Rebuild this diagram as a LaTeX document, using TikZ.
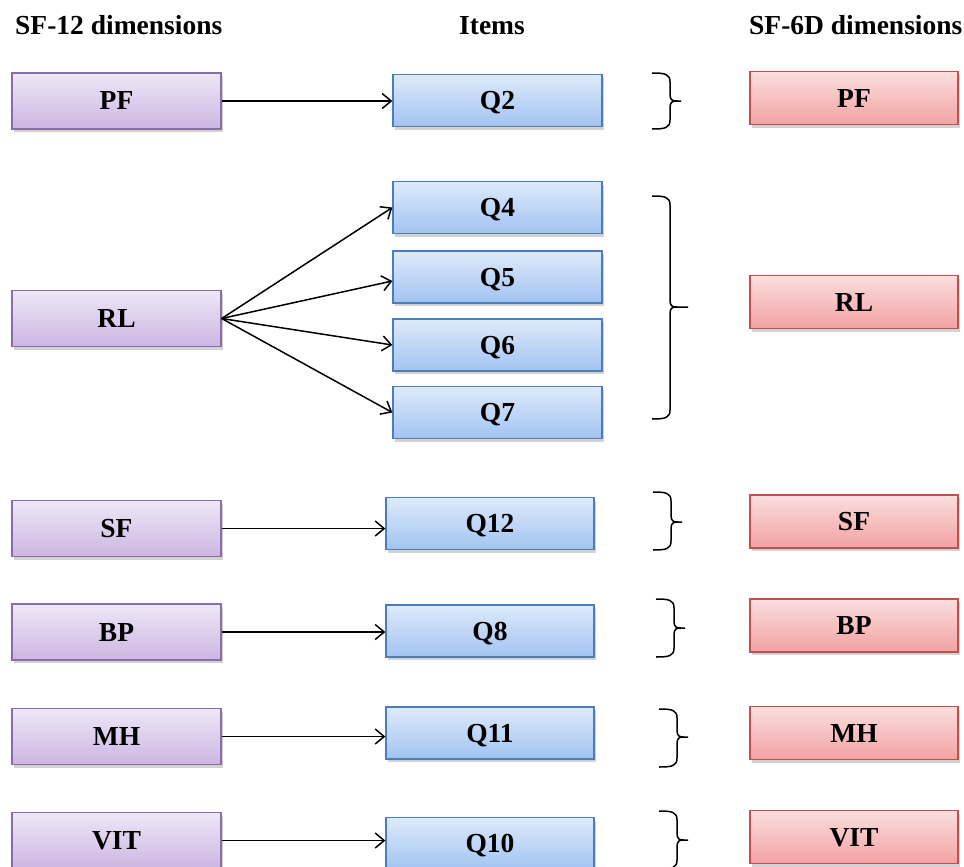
\documentclass[tikz,border=0pt]{standalone}
\usepackage{fontspec}
\setmainfont{Liberation Serif}
\usetikzlibrary{arrows.meta,shadows,calc}
\definecolor{ptop}{HTML}{EFE7F7}
\definecolor{pbot}{HTML}{CBB6E2}
\definecolor{pline}{HTML}{8A6CAE}
\definecolor{btop}{HTML}{DEEAFB}
\definecolor{bbot}{HTML}{A2C3F1}
\definecolor{bline}{HTML}{4A7EBB}
\definecolor{rtop}{HTML}{FBDEDE}
\definecolor{rbot}{HTML}{F2A2A2}
\definecolor{rline}{HTML}{C0504D}
\newcommand\cbrace[5]{%
  \draw[brc] (#1,#2) .. controls ({#1+13},#2) and ({#1+18},{#2+1}) .. ({#1+18},{#2+9})
     -- ({#1+18},{#4-7}) .. controls ({#1+18},{#4-1}) and ({#1+20},#4) .. ({#1+25},#4) -- (#5,#4);
  \draw[brc] (#1,#3) .. controls ({#1+13},#3) and ({#1+18},{#3-1}) .. ({#1+18},{#3-9})
     -- ({#1+18},{#4+7}) .. controls ({#1+18},{#4+1}) and ({#1+20},#4) .. ({#1+25},#4);
}
\begin{document}
\begin{tikzpicture}[x=1pt,y=-1pt,
  lbl/.style={font=\bfseries\fontsize{27.5}{30}\selectfont},
  boxbase/.style={rectangle, inner sep=0pt, line width=1.3pt, lbl,
    text height=18pt, text depth=0pt,
    drop shadow={shadow xshift=1.5pt, shadow yshift=-3pt, opacity=0.35}},
  pbox/.style={boxbase, minimum width=209pt, minimum height=56pt,
    top color=ptop, bottom color=pbot, draw=pline},
  bbox/.style={boxbase, minimum width=209pt, minimum height=52pt,
    top color=btop, bottom color=bbot, draw=bline},
  rbox/.style={boxbase, minimum width=208pt, minimum height=53pt,
    top color=rtop, bottom color=rbot, draw=rline},
  arr/.style={line width=1.5pt, -{Straight Barb[length=9pt,width=15pt]}},
  brc/.style={line width=1.5pt}]
\useasboundingbox (0,0) rectangle (964,867);
\clip (0,0) rectangle (964,867);
\fill[white] (0,0) rectangle (964,867);

% headings
\node[lbl, anchor=base west, inner sep=0pt] (h1) at (15,35) {SF-12 dimensions};
\node[lbl, anchor=base, inner sep=0pt] (h2) at (492,35) {Items};
\node[lbl, anchor=base west, inner sep=0pt] (h3) at (749,35) {SF-6D dimensions};

% SF-12 dimensions
\node[pbox] (lPF) at (116.5,101) {PF};
\node[pbox] (lRL) at (116.5,318.5) {RL};
\node[pbox] (lSF) at (116.5,528.5) {SF};
\node[pbox] (lBP) at (116.5,632) {BP};
\node[pbox] (lMH) at (116.5,736.5) {MH};
\node[pbox] (lVIT) at (116.5,840.5) {VIT};

% Items
\node[bbox] (Q2) at (497.5,100.5) {Q2};
\node[bbox] (Q4) at (497.5,207.5) {Q4};
\node[bbox] (Q5) at (497.5,277) {Q5};
\node[bbox] (Q6) at (497.5,345) {Q6};
\node[bbox] (Q7) at (497.5,412.5) {Q7};
\node[bbox, minimum width=208pt] (Q12) at (490,523.5) {Q12};
\node[bbox, minimum width=208pt] (Q8) at (490,631) {Q8};
\node[bbox, minimum width=208pt] (Q11) at (490,733) {Q11};
\node[bbox, minimum width=208pt] (Q10) at (490,843.5) {Q10};

% SF-6D dimensions
\node[rbox] (rPF) at (854,98) {PF};
\node[rbox] (rRL) at (854,302) {RL};
\node[rbox] (rSF) at (854,521.5) {SF};
\node[rbox] (rBP) at (854,625.5) {BP};
\node[rbox] (rMH) at (854,733) {MH};
\node[rbox] (rVIT) at (854,837) {VIT};

% connectors
\draw[arr] (lPF.east) -- (lPF.east -| Q2.west);
\draw[arr] (lRL.east) -- (Q4.west);
\draw[arr] (lRL.east) -- ($(Q5.west)+(0,4)$);
\draw[arr] (lRL.east) -- (Q6.west);
\draw[arr] (lRL.east) -- (Q7.west);
\draw[arr] (lSF.east) -- (lSF.east -| Q12.west);
\draw[arr] (lBP.east) -- (lBP.east -| Q8.west);
\draw[arr] (lMH.east) -- (lMH.east -| Q11.west);
\draw[arr] (lVIT.east) -- (lVIT.east -| Q10.west);

% braces
\cbrace{652}{73}{129}{101}{681}
\cbrace{652}{196}{419}{307}{688}
\cbrace{653}{492}{550}{522}{682}
\cbrace{656}{599}{657}{628}{685}
\cbrace{659}{709}{767}{737}{688}
\cbrace{659}{811}{869}{840}{688}
\end{tikzpicture}
\end{document}
